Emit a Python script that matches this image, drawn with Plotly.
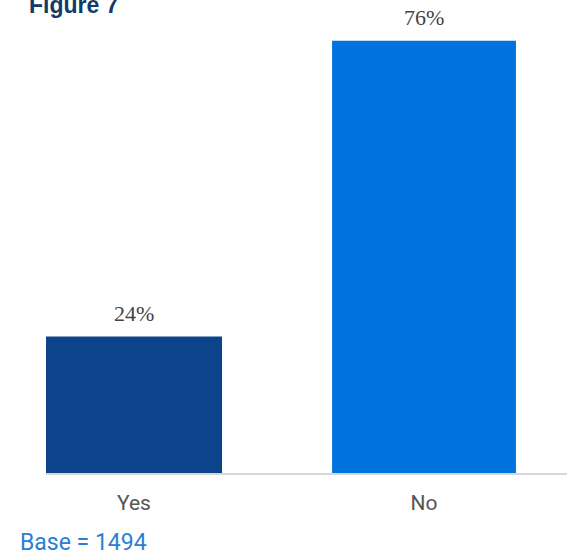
import plotly.graph_objects as go

# Survey responses
categories = ["Yes", "No"]
shares = [24, 76]
bar_colors = ["#0c448b", "#0073de"]
bar_widths = [0.607, 0.634]
base_count = 1494

fig = go.Figure(
    go.Bar(
        x=categories,
        y=shares,
        width=bar_widths,
        marker=dict(color=bar_colors, line=dict(width=0)),
        hoverinfo="skip",
    )
)

# Percentage labels above each bar
value_labels = [
    dict(
        x=cat, y=val, xref="x", yref="y",
        text=f"{val}%",
        showarrow=False,
        yanchor="middle", yshift=23,
        font=dict(family="Liberation Serif", size=22, color="#444444"),
    )
    for cat, val in zip(categories, shares)
]

fig.update_layout(
    width=567,
    height=556,
    margin=dict(l=46, r=0, t=18, b=83),
    paper_bgcolor="white",
    plot_bgcolor="white",
    showlegend=False,
    xaxis=dict(
        type="category",
        range=[-0.3034, 1.493],
        showgrid=False,
        showline=True,
        linecolor="#d6d6d6",
        linewidth=2,
        ticks="",
        tickfont=dict(family="Roboto", size=21, color="#555555"),
        ticklabelstandoff=10,
    ),
    yaxis=dict(range=[0, 80], visible=False, showgrid=False),
    annotations=value_labels + [
        dict(
            text="<b>Figure 7</b>",
            xref="paper", yref="paper",
            x=(27 - 46) / 521, y=(473 - 5) / 455,
            xanchor="left", yanchor="middle",
            showarrow=False,
            font=dict(family="Liberation Sans", size=23, color="#12396b"),
        ),
        dict(
            text=f"Base = {base_count}",
            xref="paper", yref="paper",
            x=(18 - 46) / 521, y=(473 - 542) / 455,
            xanchor="left", yanchor="middle",
            showarrow=False,
            font=dict(family="Roboto", size=23, color="#2a7fd4"),
        ),
    ],
)

fig.write_html("out.html")
